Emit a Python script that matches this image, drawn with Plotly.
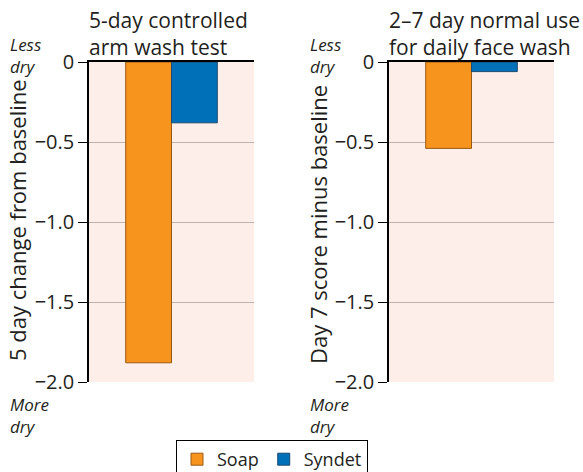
import plotly.graph_objects as go

series = ["Soap", "Syndet"]
colors = ["#f7941d", "#0070b8"]
outlines = ["#9a5a14", "#1d4a72"]
panel_titles = ["5-day controlled<br>arm wash test", "2–7 day normal use<br>for daily face wash"]
y_titles = ["5 day change from baseline", "Day 7 score minus baseline"]
arm_wash = [-1.88, -0.38]
face_wash = [-0.54, -0.06]
tick_vals = [0, -0.5, -1.0, -1.5, -2.0]
tick_text = ["0", "−0.5", "−1.0", "−1.5", "−2.0"]

FONT = "Open Sans"
TXT = "#231f20"
fig = go.Figure()

panels = [arm_wash, face_wash]
for p, vals in enumerate(panels):
    for i, s in enumerate(series):
        fig.add_trace(go.Bar(
            x=[""], y=[vals[i]], name=s,
            marker=dict(color=colors[i], line=dict(color=outlines[i], width=1)),
            xaxis="x" if p == 0 else "x2", yaxis="y" if p == 0 else "y2",
            showlegend=(p == 0), offsetgroup=str(i),
        ))

ytop = 1 - 62 / 472
ybot = 1 - 382 / 472
doms = [[89 / 583, 254 / 583], [389 / 583, 554 / 583]]

common_y = dict(
    range=[-2.0, 0], tickvals=tick_vals, ticktext=tick_text,
    ticks="outside", ticklen=9, tickcolor="black", tickwidth=1,
    showline=True, linecolor="black", linewidth=1.5,
    showgrid=True, gridcolor="#c2b2ae", gridwidth=1, zeroline=False,
    tickfont=dict(family=FONT, size=20, color=TXT),
    domain=[ybot, ytop], fixedrange=True, automargin=False,
)
common_x = dict(
    side="top", showline=True, linecolor="black", linewidth=1.5,
    showticklabels=False, ticks="", showgrid=False, zeroline=False,
    automargin=False,
)

fig.update_layout(
    width=583, height=472,
    margin=dict(l=0, r=0, t=0, b=0, autoexpand=False),
    paper_bgcolor="white", plot_bgcolor="#fdeee9",
    barmode="group", bargap=0.445, bargroupgap=0,
    xaxis=dict(domain=doms[0], anchor="y", **common_x),
    xaxis2=dict(domain=doms[1], anchor="y2", **common_x),
    yaxis=dict(anchor="x", **common_y),
    yaxis2=dict(anchor="x2", **common_y),
    legend=dict(
        orientation="h", x=176 / 583, xanchor="left", y=1 - 440 / 472, yanchor="top",
        bordercolor="black", borderwidth=1, bgcolor="white",
        font=dict(family=FONT, size=18, color=TXT),
        itemwidth=30, tracegroupgap=0,
    ),
    font=dict(family=FONT, color=TXT),
)

annotations = []
# panel titles
for p in range(2):
    annotations.append(dict(
        text=panel_titles[p], xref="paper", yref="paper",
        x=doms[p][0] - 2 / 583, y=1 - 4 / 472, xanchor="left", yanchor="top",
        showarrow=False, align="left",
        font=dict(family=FONT, size=21, color=TXT),
    ))
# y titles
ytx = [17 / 583, 318 / 583]
ytc = [220, 225]
for p in range(2):
    annotations.append(dict(
        text=y_titles[p], xref="paper", yref="paper",
        x=ytx[p], y=1 - ytc[p] / 472, xanchor="center", yanchor="middle",
        textangle=-90, showarrow=False,
        font=dict(family=FONT, size=22, color=TXT),
    ))
# direction labels
lx = [8 / 583, 308 / 583]
for p in range(2):
    annotations.append(dict(
        text="<i>Less<br>dry</i>", xref="paper", yref="paper",
        x=lx[p], y=1 - 31 / 472, xanchor="left", yanchor="top",
        showarrow=False, align="left",
        font=dict(family=FONT, size=17, color=TXT),
    ))
    annotations.append(dict(
        text="<i>More<br>dry</i>", xref="paper", yref="paper",
        x=lx[p], y=1 - 391 / 472, xanchor="left", yanchor="top",
        showarrow=False, align="left",
        font=dict(family=FONT, size=17, color=TXT),
    ))
fig.update_layout(annotations=annotations)

fig.write_html("out.html")
